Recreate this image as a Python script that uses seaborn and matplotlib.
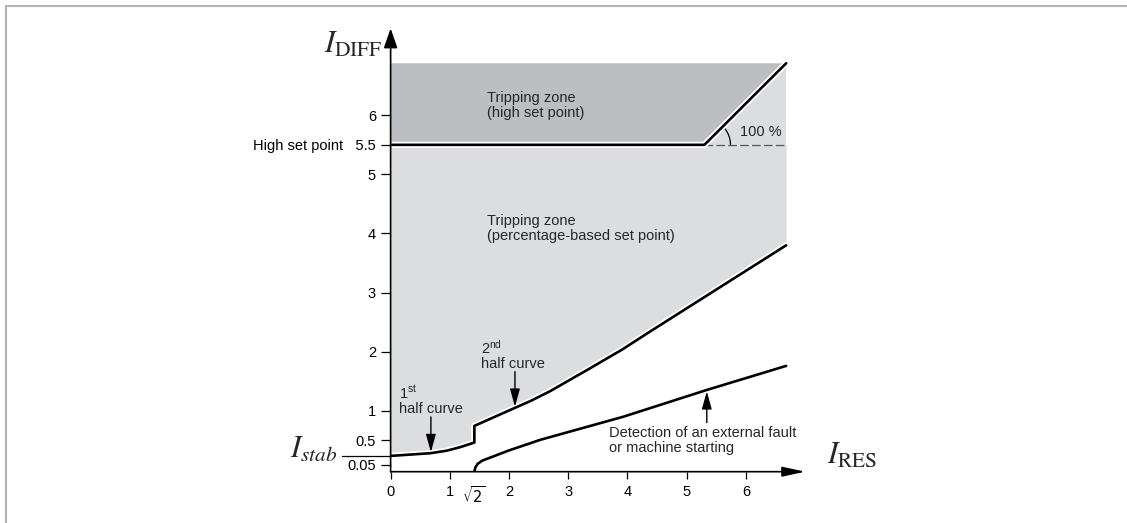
import numpy as np
import matplotlib
matplotlib.use("Agg")
import matplotlib.pyplot as plt
import matplotlib.patheffects as pe
from matplotlib.lines import Line2D
import seaborn as sns

# ---- chart values ----
SQRT2 = np.sqrt(2)
ISTAB = 0.215          # start of the 1st half curve
HIGH_SET = 5.5         # high set point
KNEE_X = 5.3           # where the 100 % slope starts
RIGHT_X = 6.68         # right end of the zones
ZONE_TOP = HIGH_SET + (RIGHT_X - KNEE_X)   # 100 % slope -> top of zone

# tripping curve: 1st half, step at sqrt(2), 2nd half
first_x = [0.0, 0.67, 0.95, 1.17, SQRT2]
first_y = [ISTAB, 0.264, 0.311, 0.374, 0.46]
second_x = [SQRT2, 2.1, 2.36, 2.69, 3.3, 3.9, 4.38, 5.23, RIGHT_X]
second_y = [0.745, 1.05, 1.165, 1.33, 1.68, 2.03, 2.34, 2.88, 3.8]

# detection of an external fault / machine starting
low_x = [SQRT2, 1.43, 1.47, 1.55, 1.68, 2.0, 2.36, 2.52, 3.93, 5.34, RIGHT_X]
low_y = [0.0, 0.03, 0.07, 0.13, 0.183, 0.316, 0.448, 0.507, 0.90, 1.353, 1.76]

x_ticks = [0, 1, SQRT2, 2, 3, 4, 5, 6]
x_labels = ["0", "1", r"$\sqrt{2}$", "2", "3", "4", "5", "6"]
y_ticks = [0.05, 0.5, 1, 2, 3, 4, 5, HIGH_SET, 6]
y_labels = ["0.05", "0.5", "1", "2", "3", "4", "5", "High set point   5.5", "6"]

DARK = "#bdbec1"
LIGHT = "#dcdddf"

# schematic y axis: the part below 0.5 is stretched
Y_IN = [0.0, 0.05, 0.5, 100.0]
Y_OUT = [-0.03, 0.085, 0.5, 100.0]


def fwd(v):
    return np.interp(v, Y_IN, Y_OUT)


def inv(d):
    return np.interp(d, Y_OUT, Y_IN)


sns.set_theme(style="white")
plt.rcParams["font.family"] = ["Liberation Sans", "DejaVu Sans"]
plt.rcParams["mathtext.fontset"] = "custom"
plt.rcParams["mathtext.rm"] = "Liberation Sans"
plt.rcParams["mathtext.it"] = "Liberation Sans:italic"
plt.rcParams["mathtext.bf"] = "Liberation Sans:bold"

fig = plt.figure(figsize=(11.27, 5.23), dpi=100)
ax = fig.add_axes([0.3466, 0.0981, 0.3704, 0.8623])
ax.set_yscale("function", functions=(fwd, inv))
ax.set_xlim(0, 7.05)
ax.set_ylim(0, 7.6)
for s in ax.spines.values():
    s.set_visible(False)

# ---- zones ----
curve_x = first_x + second_x
curve_y = first_y + second_y
ax.fill_between(curve_x, curve_y, HIGH_SET, color=LIGHT, lw=0, zorder=1)
ax.fill([0, KNEE_X, RIGHT_X, 0], [HIGH_SET, HIGH_SET, ZONE_TOP, ZONE_TOP],
        color=DARK, lw=0, zorder=1)
ax.fill([KNEE_X, RIGHT_X, RIGHT_X], [HIGH_SET, HIGH_SET, ZONE_TOP],
        color=LIGHT, lw=0, zorder=1)

# ---- curves ----
halo = [pe.withStroke(linewidth=4.5, foreground="white")]
line_kw = dict(color="black", lw=1.9, sort=False, estimator=None,
               legend=False, zorder=3, path_effects=halo)
sns.lineplot(x=curve_x, y=curve_y, ax=ax, **line_kw)
sns.lineplot(x=low_x, y=low_y, ax=ax, **line_kw)
sns.lineplot(x=[0, KNEE_X, RIGHT_X], y=[HIGH_SET, HIGH_SET, ZONE_TOP],
             ax=ax, **line_kw)

# 100 % marker: dashed reference and angle arc
ax.plot([KNEE_X, RIGHT_X], [HIGH_SET, HIGH_SET], color="#555555", lw=0.9,
        ls=(0, (7, 2.5)), zorder=2)
ang = np.linspace(0, np.pi / 4, 30)
ax.plot(KNEE_X + 0.44 * np.cos(ang), HIGH_SET + 0.44 * np.sin(ang),
        color="black", lw=0.9, zorder=2)
ax.text(5.9, 5.72, "100 %", fontsize=10.5, ha="left", va="center")

# ---- axes with arrows ----
ax.annotate("", xy=(0, 7.47), xytext=(0, 0), xycoords="data",
            arrowprops=dict(arrowstyle="-|>,head_length=1.0,head_width=0.35",
                            color="black", lw=1.2, shrinkA=0, shrinkB=0),
            annotation_clip=False, zorder=4)
ax.annotate("", xy=(7.0, 0), xytext=(0, 0), xycoords="data",
            arrowprops=dict(arrowstyle="-|>,head_length=1.15,head_width=0.25",
                            color="black", lw=1.2, shrinkA=0, shrinkB=0),
            annotation_clip=False, zorder=4)

ax.set_xticks(x_ticks)
ax.set_xticklabels(x_labels)
ax.set_yticks(y_ticks)
ax.set_yticklabels(y_labels)
ax.minorticks_off()
ax.tick_params(axis="x", bottom=True, direction="out", length=5, width=0.9,
               pad=4.5, labelsize=10.5, colors="black")
ax.tick_params(axis="y", left=True, direction="out", length=7.5, width=0.9,
               pad=3, labelsize=10.5, colors="black")
ax.xaxis.get_major_ticks()[2].tick1line.set_visible(False)
for lbl in ax.get_xticklabels():
    lbl.set_math_fontfamily("dejavusans")

# I_stab marker
ax.plot([-0.82, 0], [ISTAB, ISTAB], color="black", lw=0.9, clip_on=False)
ax.text(-0.9, 0.178, r"$I_{stab}$", fontsize=22, ha="right", va="baseline",
        math_fontfamily="stix")
ax.text(-0.63, 7.19, r"$I_{\mathrm{DIFF}}$", fontsize=22, ha="center",
        va="center", math_fontfamily="stix")
ax.text(7.80, 0.215, r"$I_{\mathrm{RES}}$", fontsize=22, ha="center",
        va="center", math_fontfamily="stix", clip_on=False)

# ---- zone / curve annotations ----
txt = dict(fontsize=10.5, ha="left", linespacing=1.05)
ax.text(1.63, 6.17, "Tripping zone\n(high set point)", va="center", **txt)
ax.text(1.63, 4.085, "Tripping zone\n(percentage-based set point)",
        va="center", **txt)
ax.text(0.14, 0.958, "1$^{\\mathrm{st}}$\nhalf curve", va="baseline", **txt)
ax.text(1.53, 1.72, "2$^{\\mathrm{nd}}$\nhalf curve", va="baseline", **txt)
ax.text(3.68, 0.29, "Detection of an external fault\nor machine starting",
        va="baseline", **txt)

arrow_kw = dict(arrowstyle="-|>,head_length=0.9,head_width=0.25",
                color="black", lw=1.0, shrinkA=0, shrinkB=0)
ax.annotate("", xy=(0.68, 0.285), xytext=(0.68, 0.896), arrowprops=arrow_kw,
            zorder=4)
ax.annotate("", xy=(2.1, 1.07), xytext=(2.1, 1.663), arrowprops=arrow_kw,
            zorder=4)
ax.annotate("", xy=(5.34, 1.33), xytext=(5.34, 0.80), arrowprops=arrow_kw,
            zorder=4)

# thin grey frame on top and left, as in the source image
fig.add_artist(Line2D([0.005, 1.0], [0.9876, 0.9876], color="#b3b3b3",
                      lw=1.5, transform=fig.transFigure))
fig.add_artist(Line2D([0.0049, 0.0049], [0.0, 0.9876], color="#b3b3b3",
                      lw=1.5, transform=fig.transFigure))

fig.savefig("out.png", dpi=100)
